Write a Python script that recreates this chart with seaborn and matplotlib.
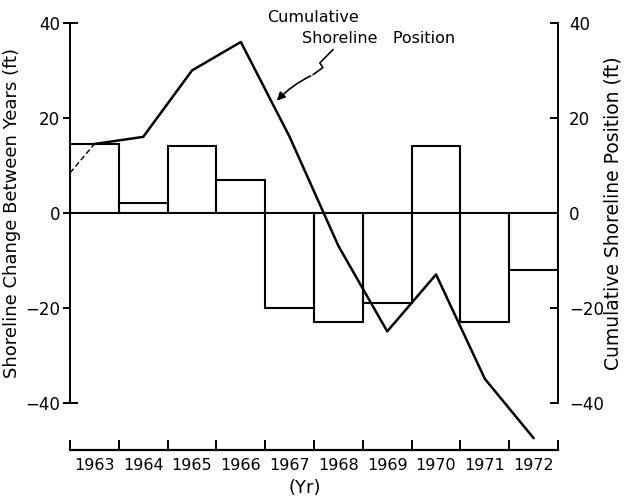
import numpy as np
import pandas as pd
import matplotlib
matplotlib.use("Agg")
import matplotlib.pyplot as plt
import seaborn as sns

# values
years = ["1963", "1964", "1965", "1966", "1967", "1968", "1969", "1970", "1971", "1972"]
change = [14.5, 2, 14, 7, -20, -23, -19, 14, -23, -12]
cumulative = [14.5, 16, 30, 36, 16, -7, -25, -13, -35, -47.5]
start_value = 8.4   # dashed lead-in at the left edge of 1963
yticks = [-40, -20, 0, 20, 40]

sns.set_style("ticks", rc={"text.color": "black", "axes.labelcolor": "black",
                           "xtick.color": "black", "ytick.color": "black",
                           "axes.edgecolor": "black"})
plt.rcParams["font.family"] = ["DejaVu Sans"]

fig = plt.figure(figsize=(6.24, 5.01), dpi=100)
ax = fig.add_axes([0.1122, 0.1018, 0.7821, 0.8523])

df = pd.DataFrame({"year": years, "change": change})
sns.barplot(data=df, x="year", y="change", fill=False, color="black",
            width=1.0, linewidth=1.5, errorbar=None, ax=ax)
ax.axhline(0, color="black", lw=1.4, zorder=1)

pos = np.arange(len(years))
ax.set_xlim(-0.5, len(years) - 0.5)
ax.set_ylim(-50, 40)

# x axis: tick marks at bin edges, labels at bin centres
ax.set_xticks(np.arange(len(years) + 1) - 0.5)
ax.set_xticklabels([])
ax.set_xticks(pos, minor=True)
ax.set_xticklabels(years, minor=True)
ax.tick_params(axis="x", which="major", direction="in", length=7, width=1.4)
ax.tick_params(axis="x", which="minor", length=0, pad=6, labelsize=11.5)

# left y axis
ax.set_yticks(yticks)
ax.yaxis.remove_overlapping_locs = False
ax.set_yticks([-40, 40], minor=True)
ax.tick_params(axis="y", which="major", direction="out", length=5, width=1.4, pad=2, labelsize=12)
ax.tick_params(axis="y", which="minor", direction="in", length=6, width=1.4)

for s in ["top", "right"]:
    ax.spines[s].set_visible(False)
ax.spines["left"].set_bounds(-40, 40)
ax.spines["left"].set_linewidth(1.4)
ax.spines["bottom"].set_linewidth(1.6)

ax.set_ylabel("Shoreline Change Between Years (ft)", fontsize=13)
ax.yaxis.set_label_coords(-0.100, 0.555)
ax.set_xlabel("(Yr)", fontsize=13)
ax.xaxis.set_label_coords(0.48, -0.068)

# right axis with the cumulative line
ax2 = ax.twinx()
ax2.set_ylim(-50, 40)
sns.lineplot(x=[-0.5, 0], y=[start_value, cumulative[0]], color="black",
             linewidth=1.0, linestyle=(0, (4, 2)), ax=ax2)
sns.lineplot(x=pos, y=cumulative, color="black", linewidth=1.8, ax=ax2)
ax2.set_xlim(-0.5, len(years) - 0.5)
ax2.set_yticks(yticks)
ax2.tick_params(axis="y", direction="in", length=6, width=1.4, pad=8, labelsize=12)
for s in ["top", "left", "bottom"]:
    ax2.spines[s].set_visible(False)
ax2.spines["right"].set_bounds(-40, 40)
ax2.spines["right"].set_linewidth(1.4)
ax2.set_ylabel("Cumulative Shoreline Position (ft)", fontsize=13.5)
ax2.yaxis.set_label_coords(1.094, 0.555)

# callout
ax2.text(3.54, 41.1, "Cumulative", ha="left", va="center", fontsize=11.5, clip_on=False)
ax2.text(4.25, 36.7, "Shoreline   Position", ha="left", va="center", fontsize=11.5, clip_on=False)
ax2.plot([4.89, 4.62, 4.68, 4.48], [34.4, 31.6, 30.6, 29.1], color="black", lw=1.2, clip_on=False)
ax2.annotate("", xy=(3.70, 23.2), xytext=(4.48, 29.1),
             arrowprops=dict(arrowstyle="-|>", color="black", lw=1.2,
                             connectionstyle="arc3,rad=0.1", mutation_scale=12))

fig.savefig("out.png", dpi=100)
